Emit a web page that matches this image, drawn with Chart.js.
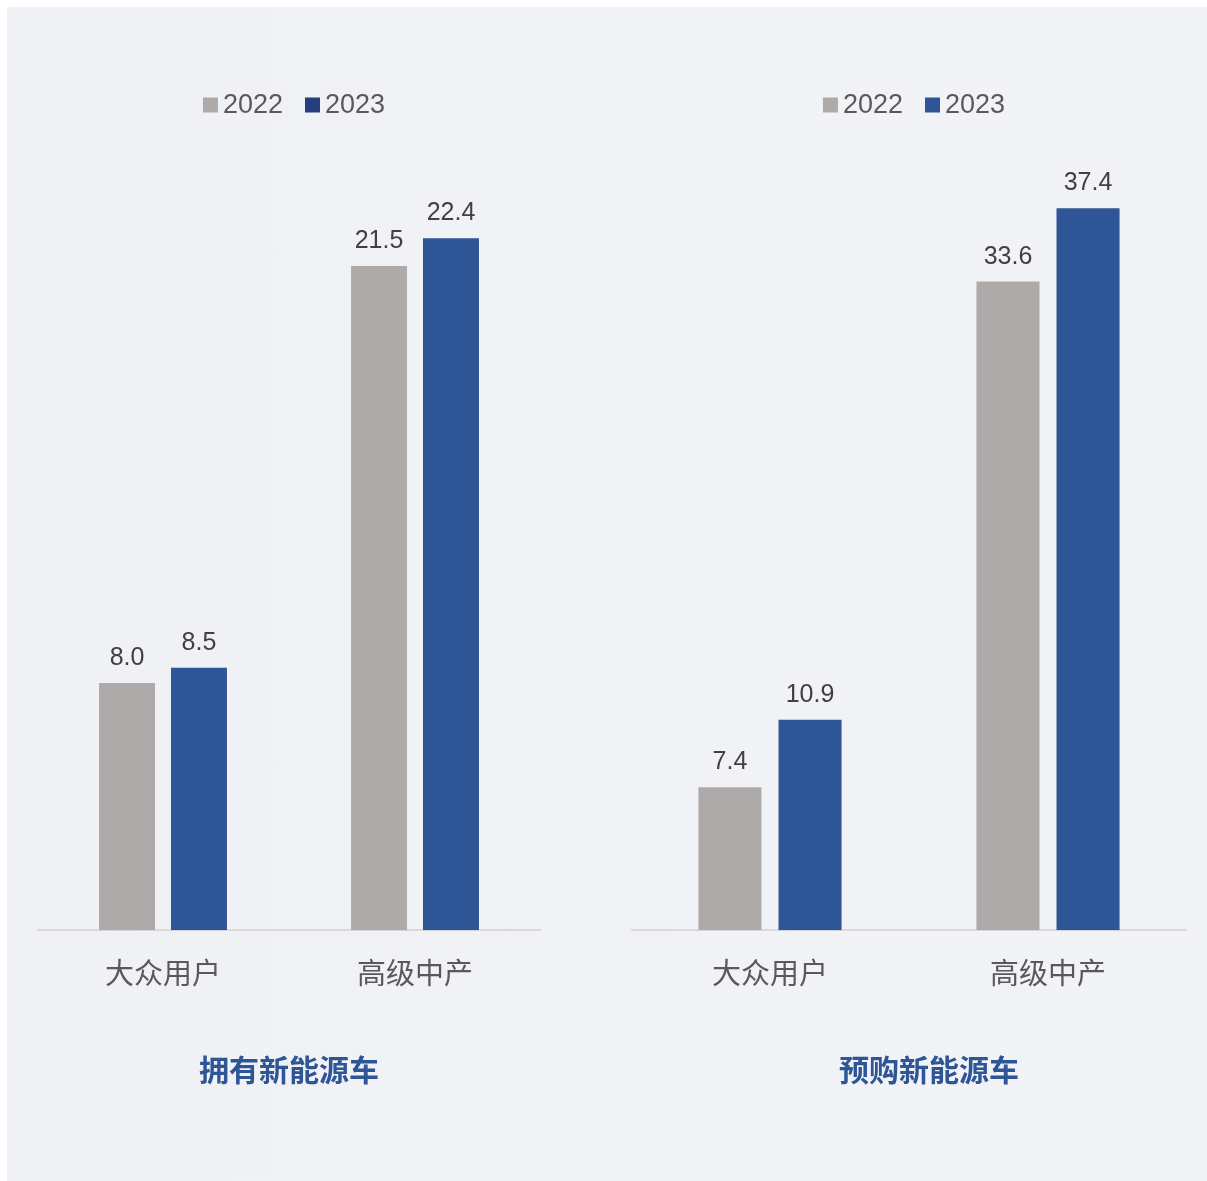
<!DOCTYPE html>
<html>
<head>
<meta charset="utf-8">
<script src="https://cdn.jsdelivr.net/npm/chart.js@4"></script>
<style>
  html, body { margin: 0; padding: 0; background: #ffffff; }
  body { width: 1207px; height: 1181px; position: relative; overflow: hidden; }
  #panel {
    position: absolute; left: 7px; top: 7px; width: 1200px; height: 1174px;
    background: linear-gradient(to right, #f0f1f4, #f1f3f7);
  }
  .box { position: absolute; top: 86px; height: 1014px; }
  #ownBox { left: 37px; width: 504px; }
  #planBox { left: 631px; width: 556px; }
</style>
</head>
<body>
<div id="panel"></div>
<div class="box" id="ownBox"><canvas id="ownChart"></canvas></div>
<div class="box" id="planBox"><canvas id="planChart"></canvas></div>
<script>
const categories = ['大众用户', '高级中产'];
const seriesNames = ['2022', '2023'];
const owned2022 = [8.0, 21.5];
const owned2023 = [8.5, 22.4];
const planned2022 = [7.4, 33.6];
const planned2023 = [10.9, 37.4];

const FONT = '"Liberation Sans", Arial, "Noto Sans CJK SC", sans-serif';
const GREY = '#aeaaa9';
const BLUE = '#2e5595';

// value printed above every bar
const barValues = {
  id: 'barValues',
  afterDatasetsDraw(chart) {
    const ctx = chart.ctx;
    ctx.save();
    ctx.font = '25px ' + FONT;
    ctx.fillStyle = '#404040';
    ctx.textAlign = 'center';
    ctx.textBaseline = 'alphabetic';
    chart.data.datasets.forEach((ds, i) => {
      chart.getDatasetMeta(i).data.forEach((bar, j) => {
        ctx.fillText(ds.data[j].toFixed(1), bar.x, bar.y - 18);
      });
    });
    ctx.restore();
  }
};

// compact legend: small square, tight gap to the text, wider gap between items
const keyRow = {
  id: 'keyRow',
  afterDraw(chart, args, opts) {
    const ctx = chart.ctx;
    const area = chart.chartArea;
    ctx.save();
    ctx.font = '27px ' + FONT;
    ctx.textBaseline = 'middle';
    ctx.textAlign = 'left';
    const box = 15, gap = 5, between = 22;
    const items = chart.data.datasets.map((ds, i) => ({
      text: ds.label,
      color: (opts.colors && opts.colors[i]) || ds.backgroundColor,
      w: ctx.measureText(ds.label).width
    }));
    let total = items.reduce((s, it) => s + box + gap + it.w, 0) + between * (items.length - 1);
    let x = (area.left + area.right) / 2 - total / 2 + 5;
    const y = area.top - 53;
    items.forEach(it => {
      ctx.fillStyle = it.color;
      ctx.fillRect(x, y - box / 2, box, box);
      ctx.fillStyle = '#595959';
      ctx.fillText(it.text, x + box + gap, y + 1);
      x += box + gap + it.w + between;
    });
    ctx.restore();
  }
};

// bold caption under the category labels
const caption = {
  id: 'caption',
  afterDraw(chart, args, opts) {
    const ctx = chart.ctx;
    const area = chart.chartArea;
    ctx.save();
    ctx.font = 'bold 30px ' + FONT;
    ctx.fillStyle = '#2e5596';
    ctx.textAlign = 'center';
    ctx.textBaseline = 'middle';
    ctx.fillText(opts.text, (area.left + area.right) / 2 + (opts.dx || 0), area.bottom + 143);
    ctx.restore();
  }
};

function makeChart(id, d2022, d2023, yMax, catPct, barPct, title, dx, keyColors) {
  return new Chart(document.getElementById(id), {
    type: 'bar',
    data: {
      labels: categories,
      datasets: [
        { label: seriesNames[0], data: d2022, backgroundColor: GREY,
          categoryPercentage: catPct, barPercentage: barPct },
        { label: seriesNames[1], data: d2023, backgroundColor: BLUE,
          categoryPercentage: catPct, barPercentage: barPct }
      ]
    },
    options: {
      responsive: true,
      maintainAspectRatio: false,
      animation: false,
      layout: { padding: { top: 72, bottom: 79, left: 0, right: 0 } },
      plugins: {
        legend: { display: false },
        tooltip: { enabled: false },
        keyRow: { colors: keyColors },
        caption: { text: title, dx: dx }
      },
      scales: {
        x: {
          grid: { display: false, drawTicks: false },
          border: { display: true, color: '#d9d9d9', width: 2 },
          ticks: { color: '#595959', padding: 28, font: { family: FONT, size: 29 } }
        },
        y: {
          display: false,
          min: 0,
          max: yMax
        }
      }
    },
    plugins: [barValues, keyRow, caption]
  });
}

makeChart('ownChart', owned2022, owned2023, 25, 0.571, 0.778, '拥有新能源车', 0, [GREY, '#243f7f']);
makeChart('planChart', planned2022, planned2023, 40, 0.576, 0.7875, '预购新能源车', 20, [GREY, BLUE]);
</script>
</body>
</html>
